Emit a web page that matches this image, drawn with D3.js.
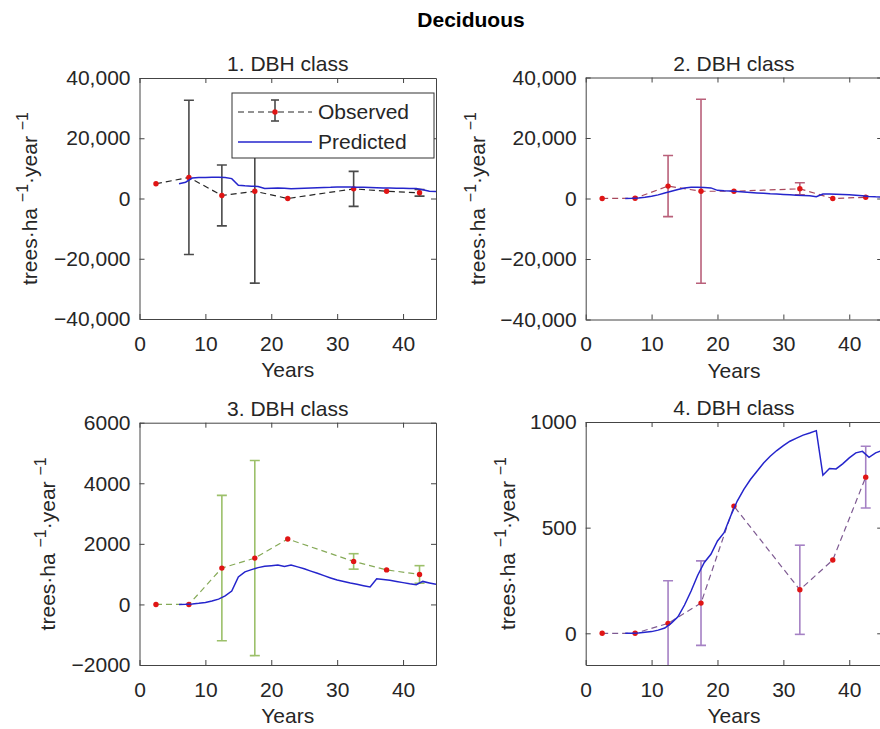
<!DOCTYPE html>
<html><head><meta charset="utf-8">
<script src="https://cdn.jsdelivr.net/npm/d3@7"></script>
<style>
body{margin:0;background:#fff}
svg{display:block}
text{font-family:"Liberation Sans",Arial,Helvetica,sans-serif;fill:#262626}
</style>
</head><body>
<svg id="c" width="880" height="729"></svg>
<script>
// ---------- DATA ----------
const figureTitle = "Deciduous";
const panelTitles = ["1. DBH class", "2. DBH class", "3. DBH class", "4. DBH class"];
const xLabel = "Years";
const xTicks = [0, 10, 20, 30, 40];
const xTickLabels = ["0", "10", "20", "30", "40"];
const obsYears = [2.5, 7.5, 12.5, 17.5, 22.5, 32.5, 37.5, 42.5];
const predYears = [6,7,8,9,10,11,12,13,14,15,16,17,18,19,20,21,22,23,24,25,26,27,28,29,30,31,32,33,34,35,36,37,38,39,40,41,42,43,44,45];

const obs1 = [4900, 7000, 1000, 2400, 0, 3200, 2400, 1900];
const err1 = [0, 25600, 10100, 30500, 0, 5800, 0, 1100];
const pred1 = [4900,5400,6800,6950,7000,7050,7050,7000,6600,4400,4200,4100,4000,3300,3400,3500,3400,3200,3300,3400,3500,3600,3650,3700,3800,3800,3800,3750,3700,3650,3600,3500,3450,3400,3400,3300,3300,2900,2400,2300];

const obs2 = [0, 100, 4100, 2400, 2400, 3200, 0, 400];
const err2 = [0, 0, 10100, 30400, 0, 2000, 0, 0];
const pred2 = [0,50,200,450,770,1200,1800,2400,3000,3500,3700,3700,3650,3500,2700,2550,2450,2300,2150,2000,1850,1700,1550,1450,1320,1200,1100,1000,900,600,1500,1450,1400,1300,1200,1050,900,700,550,450];

const obs3 = [0, 0, 1200, 1530, 2160, 1420, 1140, 990];
const err3 = [0, 0, 2400, 3220, 0, 255, 0, 290];
const pred3 = [0,5,15,35,65,110,175,280,440,910,1075,1150,1215,1260,1280,1300,1255,1300,1240,1175,1100,1030,950,875,805,755,705,665,620,575,845,820,795,760,720,680,650,760,710,665];

const obs4 = [0, 0, 47, 143, 602, 206, 347, 739];
const err4 = [0, 0, 202, 200, 0, 211, 0, 146];
const pred4 = [0,0,2,5,8,15,25,48,78,134,200,275,335,374,437,476,555,626,681,728,767,806,838,865,888,909,924,938,948,959,748,780,778,802,830,854,861,833,854,865];

const yDomain1 = [-40000, 40000], yTicks1 = [-40000, -20000, 0, 20000, 40000];
const yTickLabels1 = ["−40,000", "−20,000", "0", "20,000", "40,000"];
const yDomain3 = [-2000, 6000], yTicks3 = [-2000, 0, 2000, 4000, 6000];
const yTickLabels3 = ["−2000", "0", "2000", "4000", "6000"];
const yDomain4 = [-150, 1000], yTicks4 = [0, 500, 1000];
const yTickLabels4 = ["0", "500", "1000"];
const legendLabels = ["Observed", "Predicted"];

// ---------- LAYOUT / STYLE ----------
const panels = [
  {obs: obs1, err: err1, pred: pred1, dom: yDomain1, ticks: yTicks1, labels: yTickLabels1,
   L: 139.5, T: 78, B: 319, labX: 37, errColor: "#4a4a4a", lineColor: "#262626"},
  {obs: obs2, err: err2, pred: pred2, dom: yDomain1, ticks: yTicks1, labels: yTickLabels1,
   L: 585.7, T: 77.5, B: 319.5, labX: 485, errColor: "#b9607a", lineColor: "#a8485c"},
  {obs: obs3, err: err3, pred: pred3, dom: yDomain3, ticks: yTicks3, labels: yTickLabels3,
   L: 139.5, T: 422.7, B: 665, labX: 55, errColor: "#9cc06a", lineColor: "#86aa58"},
  {obs: obs4, err: err4, pred: pred4, dom: yDomain4, ticks: yTicks4, labels: yTickLabels4,
   L: 585.7, T: 422, B: 665, labX: 515, errColor: "#a581c4", lineColor: "#7e5a92"}
];
const W = 296.5;
const FS = 21;
const predColor = "#2525cc";
const dotColor = "#e01515";

const svg = d3.select("#c");

svg.append("text").attr("x", 471).attr("y", 27).attr("text-anchor", "middle")
  .style("font-weight", "bold").style("font-size", "21px").style("fill", "#000").text(figureTitle);

panels.forEach((p, i) => {
  const x = d3.scaleLinear().domain([0, 45]).range([p.L, p.L + W]);
  const y = d3.scaleLinear().domain(p.dom).range([p.B, p.T]);
  const g = svg.append("g");

  const clipId = "clip" + i;
  g.append("clipPath").attr("id", clipId).append("rect")
    .attr("x", p.L).attr("y", p.T).attr("width", W).attr("height", p.B - p.T);
  const dg = g.append("g").attr("clip-path", `url(#${clipId})`);

  const obsPts = obsYears.map((yr, k) => ({x: yr, v: p.obs[k], e: p.err[k]}));
  dg.append("path").datum(obsPts)
    .attr("d", d3.line().x(d => x(d.x)).y(d => y(d.v)))
    .attr("fill", "none").attr("stroke", p.lineColor).attr("stroke-width", 1.2)
    .attr("stroke-dasharray", "6,4");
  const eb = dg.selectAll(".eb").data(obsPts.filter(d => d.e > 0)).enter().append("g");
  eb.append("line").attr("x1", d => x(d.x)).attr("x2", d => x(d.x))
    .attr("y1", d => y(d.v - d.e)).attr("y2", d => y(d.v + d.e))
    .attr("stroke", p.errColor).attr("stroke-width", 1.6);
  [-1, 1].forEach(s => {
    eb.append("line").attr("x1", d => x(d.x) - 5).attr("x2", d => x(d.x) + 5)
      .attr("y1", d => y(d.v + s * d.e)).attr("y2", d => y(d.v + s * d.e))
      .attr("stroke", p.errColor).attr("stroke-width", 1.6);
  });
  dg.selectAll(".dot").data(obsPts).enter().append("circle")
    .attr("cx", d => x(d.x)).attr("cy", d => y(d.v)).attr("r", 2.7).attr("fill", dotColor);
  dg.append("path").datum(predYears.map((yr, k) => ({x: yr, v: p.pred[k]})))
    .attr("d", d3.line().x(d => x(d.x)).y(d => y(d.v)))
    .attr("fill", "none").attr("stroke", predColor).attr("stroke-width", 1.5);

  const styleAxis = sel => {
    sel.selectAll("path.domain").attr("stroke", "#444").attr("stroke-width", 1);
    sel.selectAll(".tick line").attr("stroke", "#444").attr("stroke-width", 1);
    sel.selectAll("text").style("font-size", FS + "px").style("font-family", "'Liberation Sans',Arial,sans-serif").attr("fill", "#262626");
  };
  g.append("g").attr("transform", `translate(0,${p.B})`)
    .call(d3.axisBottom(x).tickValues(xTicks).tickFormat((d, k) => xTickLabels[k]).tickSizeInner(-5).tickSizeOuter(0).tickPadding(17))
    .call(styleAxis);
  g.append("g").attr("transform", `translate(0,${p.T})`)
    .call(d3.axisTop(x).tickValues(xTicks).tickFormat("").tickSizeInner(-5).tickSizeOuter(0))
    .call(styleAxis);
  g.append("g").attr("transform", `translate(${p.L},0)`)
    .call(d3.axisLeft(y).tickValues(p.ticks).tickFormat((d, k) => p.labels[k]).tickSizeInner(-5).tickSizeOuter(0).tickPadding(9))
    .call(styleAxis);
  g.append("g").attr("transform", `translate(${p.L + W},0)`)
    .call(d3.axisRight(y).tickValues(p.ticks).tickFormat("").tickSizeInner(-5).tickSizeOuter(0))
    .call(styleAxis);

  const cx = p.L + W / 2;
  g.append("text").attr("x", cx).attr("y", p.T - 7).attr("text-anchor", "middle")
    .style("font-size", FS + "px").text(panelTitles[i]);
  g.append("text").attr("x", cx).attr("y", p.B + 58).attr("text-anchor", "middle")
    .style("font-size", FS + "px").text(xLabel);
  const yl = g.append("text").attr("transform", `translate(${p.labX},${(p.T + p.B) / 2}) rotate(-90)`)
    .attr("text-anchor", "middle").style("font-size", FS + "px");
  yl.append("tspan").text("trees·ha ");
  yl.append("tspan").attr("dy", -9).style("font-size", "16px").text("−1");
  yl.append("tspan").attr("dy", 9).text("·year ");
  yl.append("tspan").attr("dy", -9).style("font-size", "16px").text("−1");
});

// legend (panel 1)
const lg = svg.append("g");
lg.append("rect").attr("x", 232).attr("y", 93).attr("width", 202).attr("height", 65)
  .attr("fill", "#fff").attr("stroke", "#333").attr("stroke-width", 1);
lg.append("line").attr("x1", 238).attr("x2", 312).attr("y1", 112).attr("y2", 112)
  .attr("stroke", "#262626").attr("stroke-width", 1.2).attr("stroke-dasharray", "6,4");
lg.append("line").attr("x1", 275).attr("x2", 275).attr("y1", 100).attr("y2", 121)
  .attr("stroke", "#4a4a4a").attr("stroke-width", 1.6);
[100, 121].forEach(yy => lg.append("line").attr("x1", 271).attr("x2", 279).attr("y1", yy).attr("y2", yy)
  .attr("stroke", "#4a4a4a").attr("stroke-width", 1.6));
lg.append("circle").attr("cx", 275).attr("cy", 112).attr("r", 2.7).attr("fill", dotColor);
lg.append("line").attr("x1", 238).attr("x2", 312).attr("y1", 142).attr("y2", 142)
  .attr("stroke", predColor).attr("stroke-width", 1.5);
lg.append("text").attr("x", 318).attr("y", 119).style("font-size", FS + "px").text(legendLabels[0]);
lg.append("text").attr("x", 318).attr("y", 149).style("font-size", FS + "px").text(legendLabels[1]);
</script>
</body></html>
